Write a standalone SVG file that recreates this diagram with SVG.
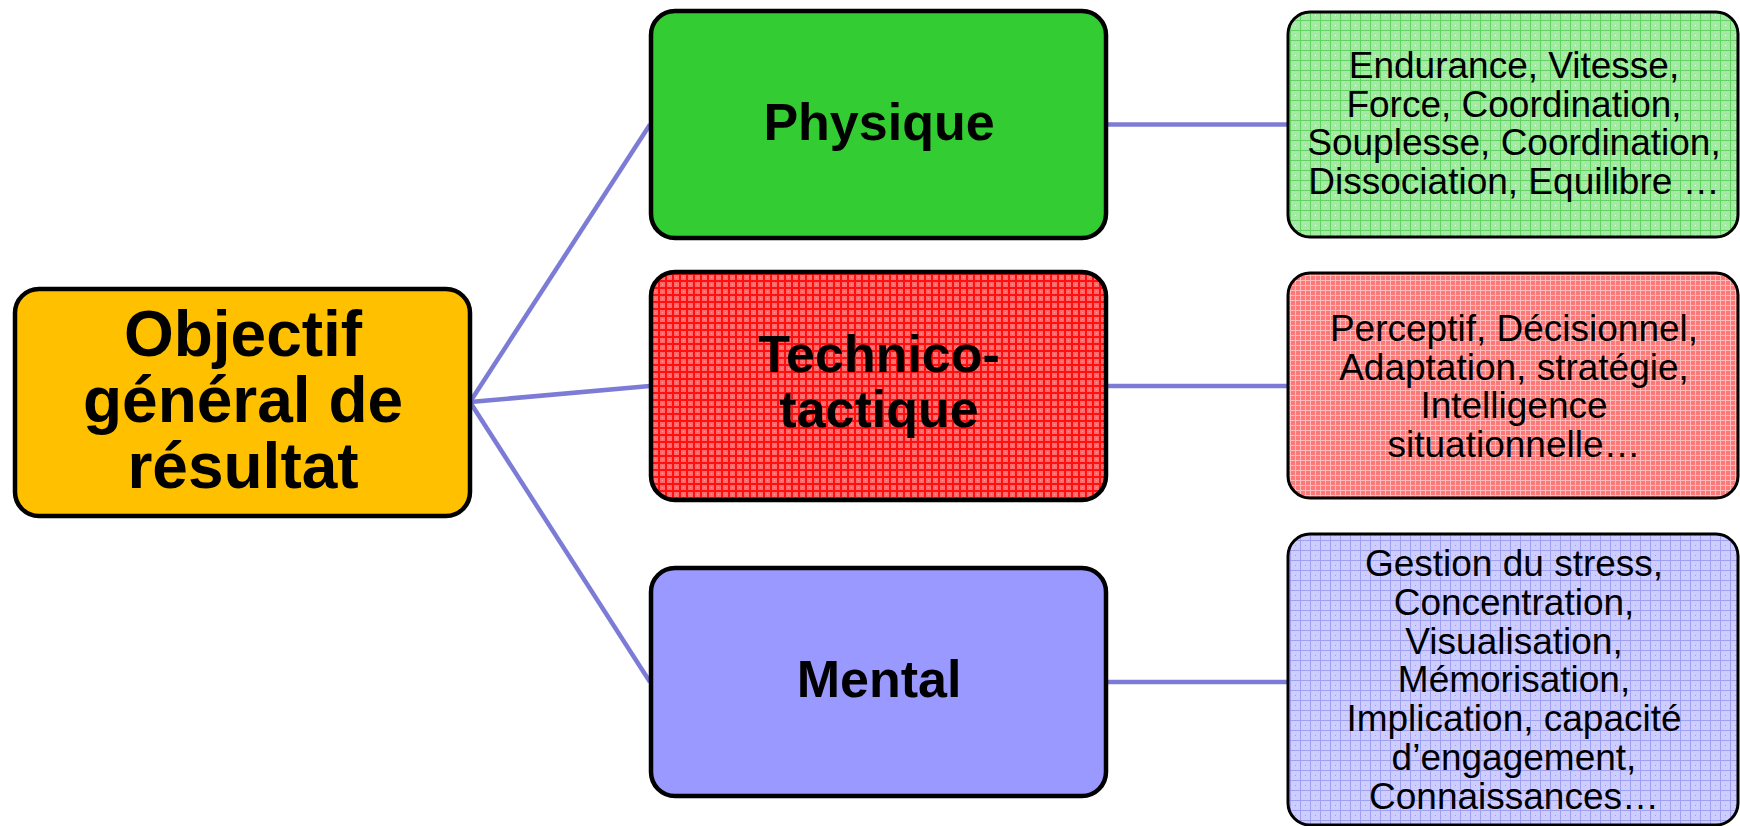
<svg xmlns="http://www.w3.org/2000/svg" width="1740" height="826" viewBox="0 0 1740 826">
  <defs>
    <!-- light green grid fill -->
    <pattern id="gridGreen" width="10" height="10" patternUnits="userSpaceOnUse">
      <rect width="10" height="10" fill="#a4eaa4"/>
      <path d="M0 0.5H10M0.5 0V10" stroke="#62d262" stroke-width="1"/>
      <rect x="5" y="5" width="1" height="1" fill="#ffffff"/>
    </pattern>
    <!-- dense red grid fill -->
    <pattern id="gridRedDense" width="7" height="7" patternUnits="userSpaceOnUse">
      <rect width="7" height="7" fill="#ff6a6a"/>
      <path d="M0 1H7M1 0V7" stroke="#ff1010" stroke-width="2"/>
      <rect x="4" y="4" width="1" height="1" fill="#ff9a9a"/>
    </pattern>
    <!-- pink grid fill -->
    <pattern id="gridPink" width="5" height="5" patternUnits="userSpaceOnUse">
      <rect width="5" height="5" fill="#ff7878"/>
      <path d="M0 0.5H5M0.5 0V5" stroke="#ffbcbc" stroke-width="1"/>
    </pattern>
    <!-- lavender grid fill -->
    <pattern id="gridBlue" width="10" height="10" patternUnits="userSpaceOnUse">
      <rect width="10" height="10" fill="#cdcdff"/>
      <path d="M0 0.5H10M0.5 0V10" stroke="#a0a0f0" stroke-width="1"/>
      <rect x="5" y="5" width="1" height="1" fill="#9c9cf0"/>
    </pattern>
    <style>
      .main { stroke: #000; stroke-width: 4.5; }
      .detail { stroke: #000; stroke-width: 3; }
      .link { stroke: #7c7cd6; stroke-width: 4.5; fill: none; }
      .bold { font-family: "Liberation Sans", Arial, sans-serif; font-weight: bold; fill: #000; text-anchor: middle; }
      .reg { font-family: "Liberation Sans", Arial, sans-serif; font-size: 37px; fill: #000; text-anchor: middle; }
    </style>
  </defs>

  <rect width="1740" height="826" fill="#ffffff"/>

  <g id="connectors">
    <line class="link" x1="470" y1="402" x2="650" y2="124.5"/>
    <line class="link" x1="470" y1="402" x2="650" y2="386"/>
    <line class="link" x1="470" y1="402" x2="650" y2="682"/>
    <line class="link" x1="1107" y1="124.5" x2="1288" y2="124.5"/>
    <line class="link" x1="1107" y1="386" x2="1288" y2="386"/>
    <line class="link" x1="1107" y1="682" x2="1288" y2="682"/>
  </g>

  <g id="root">
    <rect class="main" x="15" y="289" width="455" height="227" rx="24" fill="#ffc000"/>
    <text class="bold" font-size="64" x="243" y="356">Objectif</text>
    <text class="bold" font-size="64" x="243" y="422">général de</text>
    <text class="bold" font-size="64" x="243" y="488">résultat</text>
  </g>

  <g id="physique">
    <rect class="main" x="651" y="11" width="455" height="227" rx="24" fill="#33cc33"/>
    <text class="bold" font-size="52" x="879" y="140">Physique</text>
  </g>

  <g id="technico">
    <rect class="main" x="651" y="272" width="455" height="228" rx="24" fill="url(#gridRedDense)"/>
    <text class="bold" font-size="52" x="879" y="372">Technico-</text>
    <text class="bold" font-size="52" x="879" y="427">tactique</text>
  </g>

  <g id="mental">
    <rect class="main" x="651" y="568" width="455" height="228" rx="24" fill="#9999ff"/>
    <text class="bold" font-size="52" x="879" y="697">Mental</text>
  </g>

  <g id="physique-details">
    <rect class="detail" x="1288" y="12" width="450" height="225" rx="22" fill="url(#gridGreen)"/>
    <text class="reg" x="1514" y="78">Endurance, Vitesse,</text>
    <text class="reg" x="1514" y="116.5">Force, Coordination,</text>
    <text class="reg" x="1514" y="155">Souplesse, Coordination,</text>
    <text class="reg" x="1514" y="193.5">Dissociation, Equilibre …</text>
  </g>

  <g id="technico-details">
    <rect class="detail" x="1288" y="273" width="450" height="225" rx="22" fill="url(#gridPink)"/>
    <text class="reg" x="1514" y="341">Perceptif, Décisionnel,</text>
    <text class="reg" x="1514" y="379.5">Adaptation, stratégie,</text>
    <text class="reg" x="1514" y="418">Intelligence</text>
    <text class="reg" x="1514" y="456.5">situationnelle…</text>
  </g>

  <g id="mental-details">
    <rect class="detail" x="1288" y="534" width="450" height="291" rx="22" fill="url(#gridBlue)"/>
    <text class="reg" x="1514" y="576">Gestion du stress,</text>
    <text class="reg" x="1514" y="614.8">Concentration,</text>
    <text class="reg" x="1514" y="653.6">Visualisation,</text>
    <text class="reg" x="1514" y="692.4">Mémorisation,</text>
    <text class="reg" x="1514" y="731.2">Implication, capacité</text>
    <text class="reg" x="1514" y="770">d’engagement,</text>
    <text class="reg" x="1514" y="808.8">Connaissances…</text>
  </g>
</svg>
